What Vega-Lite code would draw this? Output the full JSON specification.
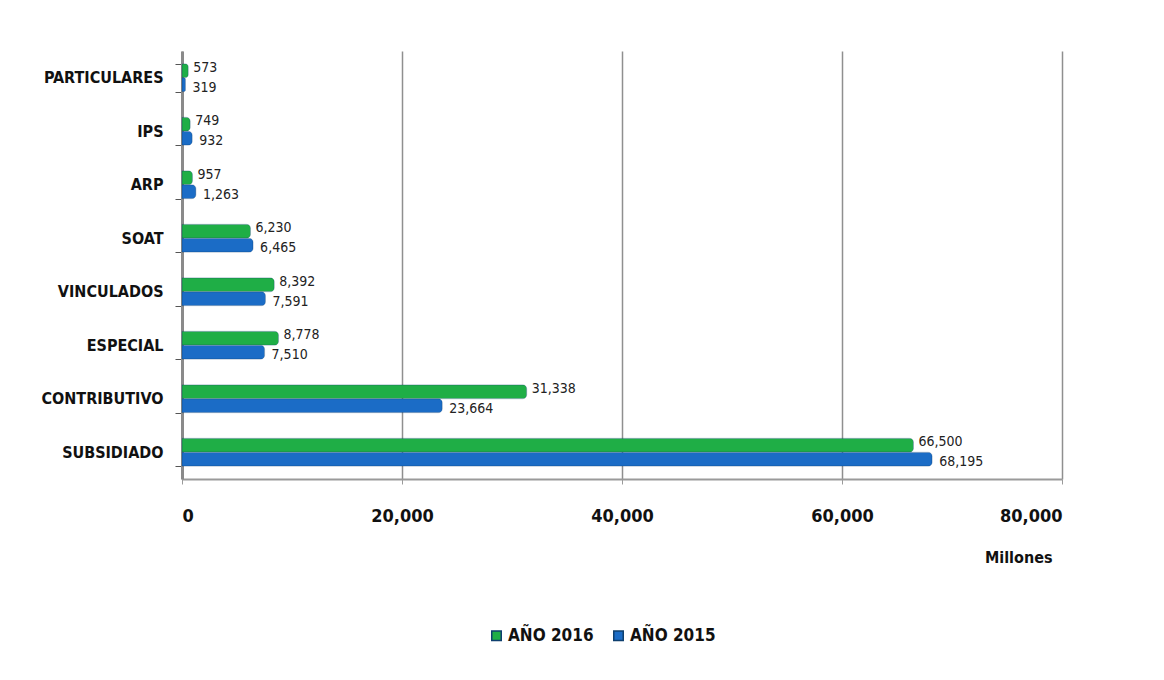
{
  "$schema": "https://vega.github.io/schema/vega-lite/v6.json",
  "autosize": {"type": "none"},
  "width": 880,
  "height": 428,
  "padding": {"left": 182, "top": 51, "right": 102, "bottom": 201},
  "background": "white",
  "config": {
    "view": {"stroke": null},
    "font": "DejaVu Sans Condensed, Liberation Sans, sans-serif"
  },
  "data": {
    "values": [
      {"cat": "PARTICULARES", "year": "AÑO 2016", "value": 573},
      {"cat": "PARTICULARES", "year": "AÑO 2015", "value": 319},
      {"cat": "IPS", "year": "AÑO 2016", "value": 749},
      {"cat": "IPS", "year": "AÑO 2015", "value": 932},
      {"cat": "ARP", "year": "AÑO 2016", "value": 957},
      {"cat": "ARP", "year": "AÑO 2015", "value": 1263},
      {"cat": "SOAT", "year": "AÑO 2016", "value": 6230},
      {"cat": "SOAT", "year": "AÑO 2015", "value": 6465},
      {"cat": "VINCULADOS", "year": "AÑO 2016", "value": 8392},
      {"cat": "VINCULADOS", "year": "AÑO 2015", "value": 7591},
      {"cat": "ESPECIAL", "year": "AÑO 2016", "value": 8778},
      {"cat": "ESPECIAL", "year": "AÑO 2015", "value": 7510},
      {"cat": "CONTRIBUTIVO", "year": "AÑO 2016", "value": 31338},
      {"cat": "CONTRIBUTIVO", "year": "AÑO 2015", "value": 23664},
      {"cat": "SUBSIDIADO", "year": "AÑO 2016", "value": 66500},
      {"cat": "SUBSIDIADO", "year": "AÑO 2015", "value": 68195}
    ]
  },
  "encoding": {
    "y": {
      "field": "cat",
      "type": "nominal",
      "sort": ["PARTICULARES", "IPS", "ARP", "SOAT", "VINCULADOS", "ESPECIAL", "CONTRIBUTIVO", "SUBSIDIADO"],
      "scale": {"paddingInner": 0.48, "paddingOuter": 0.24},
      "axis": {
        "title": null,
        "tickBand": "extent",
        "domainColor": "#8a8a8a",
        "domainWidth": 3,
        "tickColor": "#555555",
        "tickSize": 7,
        "labelFont": "DejaVu Sans Condensed, Liberation Sans, sans-serif",
        "labelFontWeight": "bold",
        "labelFontSize": 16,
        "labelColor": "#111111",
        "labelPadding": 12
      }
    },
    "yOffset": {"field": "year", "type": "nominal", "sort": ["AÑO 2016", "AÑO 2015"]},
    "x": {
      "field": "value",
      "type": "quantitative",
      "scale": {"domain": [0, 80000], "nice": false},
      "axis": {
        "values": [0, 20000, 40000, 60000, 80000],
        "format": ",d",
        "grid": true,
        "gridColor": "#8f8f8f",
        "gridWidth": 1.5,
        "domainColor": "#9a9a9a",
        "domainWidth": 2,
        "tickColor": "#9a9a9a",
        "tickSize": 5,
        "labelFont": "DejaVu Sans Condensed, Liberation Sans, sans-serif",
        "labelFontWeight": "bold",
        "labelFontSize": 18,
        "labelColor": "#111111",
        "labelPadding": 23,
        "labelOverlap": false,
        "title": "Millones",
        "titleFont": "DejaVu Sans Condensed, Liberation Sans, sans-serif",
        "titleFontWeight": "bold",
        "titleFontSize": 16,
        "titleColor": "#111111",
        "titleAlign": "right",
        "titleAnchor": "end",
        "titleX": 870,
        "titleY": 70
      }
    }
  },
  "layer": [
    {
      "mark": {"type": "bar", "cornerRadiusEnd": 4, "stroke": "#0e3f6e", "strokeWidth": 0.5, "strokeOpacity": 0.5},
      "encoding": {
        "color": {
          "field": "year",
          "type": "nominal",
          "scale": {"domain": ["AÑO 2016", "AÑO 2015"], "range": ["#1fae46", "#1b6cc6"]},
          "legend": {
            "title": null,
            "orient": "none",
            "direction": "horizontal",
            "legendX": 306,
            "legendY": 576,
            "symbolType": "square",
            "symbolSize": 90,
            "labelFont": "DejaVu Sans Condensed, Liberation Sans, sans-serif",
            "labelFontWeight": "bold",
            "labelFontSize": 17,
            "labelColor": "#111111",
            "labelOffset": 3,
            "columnPadding": 16
          }
        }
      }
    },
    {
      "transform": [{"filter": "datum.year === 'AÑO 2016'"}],
      "mark": {"type": "text", "align": "left", "dx": 5, "dy": -3, "fontSize": 14, "font": "DejaVu Sans Condensed, Liberation Sans, sans-serif", "color": "#222222"},
      "encoding": {
        "text": {"field": "value", "type": "quantitative", "format": ",d"}
      }
    },
    {
      "transform": [{"filter": "datum.year === 'AÑO 2015'"}],
      "mark": {"type": "text", "align": "left", "dx": 7, "dy": 3, "fontSize": 14, "font": "DejaVu Sans Condensed, Liberation Sans, sans-serif", "color": "#222222"},
      "encoding": {
        "text": {"field": "value", "type": "quantitative", "format": ",d"}
      }
    }
  ]
}
